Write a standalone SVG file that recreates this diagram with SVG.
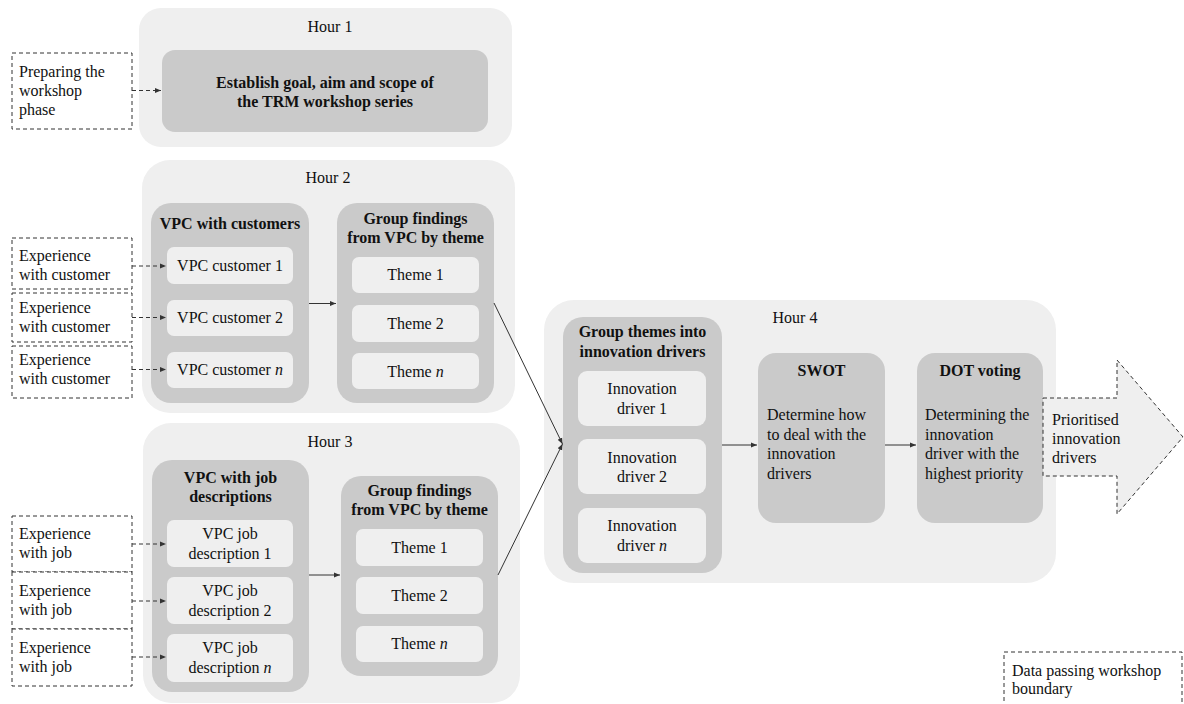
<svg xmlns="http://www.w3.org/2000/svg" width="1184" height="704" viewBox="0 0 1184 704">
<defs>
<marker id="ah" markerWidth="7" markerHeight="6" refX="6" refY="3" orient="auto" markerUnits="userSpaceOnUse"><path d="M0,0.5 L6,3 L0,5.5 Z" fill="#333"/></marker>
<style>
text{font-family:"Liberation Serif","Times New Roman",serif;font-size:16px;fill:#111}
.b{font-weight:bold}
.c{text-anchor:middle}
.hour{fill:#efefef}
.mid{fill:#cacaca}
.item{fill:#efefef}
.dash{fill:#fff;stroke:#333;stroke-width:1;stroke-dasharray:4 3}
.conn{fill:none;stroke:#333;stroke-width:1}
.dconn{fill:none;stroke:#333;stroke-width:1;stroke-dasharray:4 3}
</style>
</defs>
<rect width="1184" height="704" fill="#fff"/>

<g id="hour1">
<rect class="hour" x="139" y="8" width="373" height="139" rx="22"/>
<text class="c" x="330" y="32">Hour 1</text>
<rect class="mid" x="162" y="50" width="326" height="82" rx="13"/>
<text class="c b" x="325" y="88">Establish goal, aim and scope of</text>
<text class="c b" x="325" y="107">the TRM workshop series</text>
</g>

<g id="hour2">
<rect class="hour" x="142" y="160" width="373" height="253" rx="28"/>
<text class="c" x="328" y="183">Hour 2</text>
<g id="vpc-customers">
<rect class="mid" x="151" y="203" width="158" height="200" rx="20"/>
<text class="c b" x="230" y="229">VPC with customers</text>
<rect class="item" x="167" y="247" width="126" height="37" rx="7"/>
<text class="c" x="230" y="271">VPC customer 1</text>
<rect class="item" x="167" y="300" width="126" height="36" rx="7"/>
<text class="c" x="230" y="323">VPC customer 2</text>
<rect class="item" x="167" y="352" width="126" height="36" rx="7"/>
<text class="c" x="230" y="375">VPC customer <tspan font-style="italic">n</tspan></text>
</g>
<g id="group-findings-2">
<rect class="mid" x="337" y="203" width="157" height="200" rx="20"/>
<text class="c b" x="415.5" y="224">Group findings</text>
<text class="c b" x="415.5" y="243">from VPC by theme</text>
<rect class="item" x="352" y="257" width="127" height="36" rx="7"/>
<text class="c" x="415.5" y="280">Theme 1</text>
<rect class="item" x="352" y="305" width="127" height="37" rx="7"/>
<text class="c" x="415.5" y="329">Theme 2</text>
<rect class="item" x="352" y="353" width="127" height="36" rx="7"/>
<text class="c" x="415.5" y="377">Theme <tspan font-style="italic">n</tspan></text>
</g>
</g>

<g id="hour3">
<rect class="hour" x="143" y="423" width="377" height="280" rx="28"/>
<text class="c" x="330" y="447">Hour 3</text>
<g id="vpc-jobs">
<rect class="mid" x="152" y="460" width="157" height="232" rx="20"/>
<text class="c b" x="230.5" y="483">VPC with job</text>
<text class="c b" x="230.5" y="502">descriptions</text>
<rect class="item" x="167" y="520" width="126" height="47" rx="7"/>
<text class="c" x="230" y="539">VPC job</text>
<text class="c" x="230" y="559">description 1</text>
<rect class="item" x="167" y="577" width="126" height="47" rx="7"/>
<text class="c" x="230" y="596">VPC job</text>
<text class="c" x="230" y="616">description 2</text>
<rect class="item" x="167" y="634" width="126" height="48" rx="7"/>
<text class="c" x="230" y="653">VPC job</text>
<text class="c" x="230" y="673">description <tspan font-style="italic">n</tspan></text>
</g>
<g id="group-findings-3">
<rect class="mid" x="341" y="476" width="157" height="200" rx="20"/>
<text class="c b" x="419.5" y="496">Group findings</text>
<text class="c b" x="419.5" y="515">from VPC by theme</text>
<rect class="item" x="356" y="529" width="127" height="37" rx="7"/>
<text class="c" x="419.5" y="553">Theme 1</text>
<rect class="item" x="356" y="577" width="127" height="37" rx="7"/>
<text class="c" x="419.5" y="601">Theme 2</text>
<rect class="item" x="356" y="626" width="127" height="36" rx="7"/>
<text class="c" x="419.5" y="649">Theme <tspan font-style="italic">n</tspan></text>
</g>
</g>

<g id="hour4">
<rect class="hour" x="544" y="300" width="512" height="283" rx="30"/>
<text class="c" x="795" y="323">Hour 4</text>
<g id="group-themes">
<rect class="mid" x="563" y="317" width="159" height="256" rx="20"/>
<text class="c b" x="642.5" y="337">Group themes into</text>
<text class="c b" x="642.5" y="357">innovation drivers</text>
<rect class="item" x="578" y="371" width="128" height="55" rx="9"/>
<text class="c" x="642" y="394">Innovation</text>
<text class="c" x="642" y="414">driver 1</text>
<rect class="item" x="578" y="439" width="128" height="55" rx="9"/>
<text class="c" x="642" y="463">Innovation</text>
<text class="c" x="642" y="482">driver 2</text>
<rect class="item" x="578" y="508" width="128" height="55" rx="9"/>
<text class="c" x="642" y="531">Innovation</text>
<text class="c" x="642" y="551">driver <tspan font-style="italic">n</tspan></text>
</g>
<g id="swot">
<rect class="mid" x="758" y="353" width="127" height="170" rx="18"/>
<text class="c b" x="821.5" y="376">SWOT</text>
<text x="767" y="420">Determine how</text>
<text x="767" y="440">to deal with the</text>
<text x="767" y="459">innovation</text>
<text x="767" y="479">drivers</text>
</g>
<g id="dot-voting">
<rect class="mid" x="917" y="353" width="126" height="170" rx="18"/>
<text class="c b" x="980" y="376">DOT voting</text>
<text x="925" y="420">Determining the</text>
<text x="925" y="440">innovation</text>
<text x="925" y="459">driver with the</text>
<text x="925" y="479">highest priority</text>
</g>
</g>

<g id="output-arrow">
<path d="M1043,398 H1117 V360 L1183,437 L1117,514 V476 H1043 Z" fill="#efefef" stroke="#333" stroke-width="1" stroke-dasharray="4 3"/>
<text x="1052" y="425">Prioritised</text>
<text x="1052" y="444">innovation</text>
<text x="1052" y="463">drivers</text>
</g>

<g id="input-preparing">
<rect class="dash" x="12" y="53" width="120" height="76"/>
<text x="19" y="77">Preparing the</text>
<text x="19" y="96">workshop</text>
<text x="19" y="115">phase</text>
</g>
<g id="input-cust-1">
<rect class="dash" x="12" y="238" width="120" height="51"/>
<text x="19" y="261">Experience</text>
<text x="19" y="280">with customer</text>
</g>
<g id="input-cust-2">
<rect class="dash" x="12" y="293" width="120" height="49"/>
<text x="19" y="313">Experience</text>
<text x="19" y="332">with customer</text>
</g>
<g id="input-cust-3">
<rect class="dash" x="12" y="346" width="120" height="52"/>
<text x="19" y="365">Experience</text>
<text x="19" y="384">with customer</text>
</g>
<g id="input-job-1">
<rect class="dash" x="12" y="516" width="120" height="56"/>
<text x="19" y="539">Experience</text>
<text x="19" y="558">with job</text>
</g>
<g id="input-job-2">
<rect class="dash" x="12" y="572" width="120" height="57"/>
<text x="19" y="596">Experience</text>
<text x="19" y="615">with job</text>
</g>
<g id="input-job-3">
<rect class="dash" x="12" y="629" width="120" height="57"/>
<text x="19" y="653">Experience</text>
<text x="19" y="672">with job</text>
</g>

<g id="legend">
<rect class="dash" x="1004" y="652" width="178" height="60"/>
<text x="1012" y="676">Data passing workshop</text>
<text x="1012" y="694">boundary</text>
</g>

<g id="connectors">
<path class="dconn" d="M132,90.5 H161" marker-end="url(#ah)"/>
<path class="dconn" d="M132,266 H166" marker-end="url(#ah)"/>
<path class="dconn" d="M132,317.5 H166" marker-end="url(#ah)"/>
<path class="dconn" d="M132,369.5 H166" marker-end="url(#ah)"/>
<path class="dconn" d="M132,544 H166" marker-end="url(#ah)"/>
<path class="dconn" d="M132,601 H166" marker-end="url(#ah)"/>
<path class="dconn" d="M132,657 H166" marker-end="url(#ah)"/>
<path class="conn" d="M309,303.5 H336" marker-end="url(#ah)"/>
<path class="conn" d="M309,575 H340" marker-end="url(#ah)"/>
<path class="conn" d="M494,303 L562.5,444" marker-end="url(#ah)"/>
<path class="conn" d="M498,575 L562.5,444" marker-end="url(#ah)"/>
<path class="conn" d="M722,445 H757" marker-end="url(#ah)"/>
<path class="conn" d="M885,445 H916" marker-end="url(#ah)"/>
</g>
</svg>
